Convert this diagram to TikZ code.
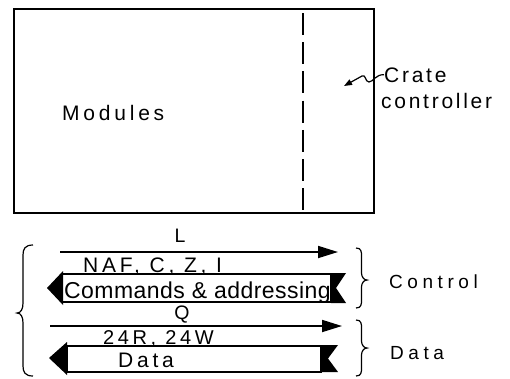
\documentclass[tikz,border=0pt]{standalone}
\usepackage{fontspec}
\setmainfont{Liberation Sans}
\newfontfamily\lsA[LetterSpace=18]{Liberation Sans}
\newfontfamily\lsB[LetterSpace=13]{Liberation Sans}
\newfontfamily\lsC[LetterSpace=24]{Liberation Sans}
\newfontfamily\lsD[LetterSpace=2]{Liberation Sans}
\usetikzlibrary{arrows.meta}
\begin{document}
\begin{tikzpicture}[x=1pt,y=-1pt,
  frame/.style={line width=1.4pt},
  divider/.style={line width=1.5pt, dash pattern=on 22pt off 7.2pt},
  bus/.style={line width=1.8pt, -{Triangle[length=20pt,width=12pt]}},
  band/.style={line width=1.7pt},
  blk/.style={fill=black},
  brc/.style={line width=1.2pt},
  lbl/.style={inner sep=0pt, anchor=base west},
  clbl/.style={inner sep=0pt, anchor=base}]
\useasboundingbox (0,0) rectangle (510,378);
% crate
\draw[frame] (14,9) rectangle (374,213);
\coordinate (dt) at (303,13);
\coordinate (db) at (303,210);
\draw[divider] (dt) -- (db);
\node[lbl,font=\lsA\fontsize{21}{21}\selectfont] (mod) at (62,120) {Modules};
\node[lbl,font=\lsB\fontsize{21}{21}\selectfont] (crate) at (384,82) {Crate};
\node[lbl,font=\lsB\fontsize{21}{21}\selectfont] (ctrl) at (381,108) {controller};
\coordinate (sq) at (344,86);
\draw[line width=1.2pt,-{Triangle[length=8pt,width=6pt]}] (crate.west) .. controls (376,74) and (373,82) .. (369,82) .. controls (365,82) and (366,74) .. (362,76) -- (sq);
% L line
\coordinate (Ls) at (60,252);
\coordinate (Le) at (338,252);
\draw[bus] (Ls) -- (Le);
\node[clbl,font=\fontsize{19.5}{19.5}\selectfont] (L) at (180,242) {L};
\node[lbl,font=\lsA\fontsize{21}{21}\selectfont] (naf) at (83,272) {NAF, C, Z, I};
% Commands band
\draw[band] (62,274) rectangle (331,302);
\fill[blk] (47,288) -- (63,271) -- (63,305) -- cycle;
\fill[blk] (331,273) -- (346,273) -- (336,288) -- (346,303) -- (331,303) -- cycle;
\node[lbl,font=\lsD\fontsize{23}{23}\selectfont] (cmd) at (64,298) {Commands \& addressing};
% Q line
\coordinate (Qs) at (50,326);
\coordinate (Qe) at (342,326);
\draw[bus] (Qs) -- (Qe);
\node[clbl,font=\fontsize{19.5}{19.5}\selectfont] (Q) at (182,319) {Q};
\node[lbl,font=\lsA\fontsize{20}{20}\selectfont] (rw) at (103,344) {24R, 24W};
% Data band
\draw[band] (67,346) rectangle (321,372);
\fill[blk] (49,358) -- (67,342) -- (67,375) -- cycle;
\fill[blk] (321,345) -- (338,345) -- (328,358.5) -- (338,372) -- (321,372) -- cycle;
\node[lbl,font=\lsA\fontsize{21}{21}\selectfont] (dat) at (118,367) {Data};
% braces
\draw[brc] (356,248) .. controls (361.5,248) and (361.5,252) .. (361.5,256) -- (361.5,273) .. controls (361.5,277) and (364,280) .. (367,280) .. controls (364,280) and (361.5,283) .. (361.5,287) -- (361.5,300) .. controls (361.5,304) and (361.5,308) .. (356,308);
\draw[brc] (356,320) .. controls (361.5,320) and (361.5,324) .. (361.5,328) -- (361.5,341) .. controls (361.5,345) and (364,348) .. (367,348) .. controls (364,348) and (361.5,351) .. (361.5,355) -- (361.5,368) .. controls (361.5,372) and (361.5,376) .. (356,376);
\draw[brc] (33,245) .. controls (25,245) and (23,249) .. (23,255) -- (23,303) .. controls (23,309) and (21,313) .. (17,313) .. controls (21,313) and (23,317) .. (23,323) -- (23,366) .. controls (23,372) and (25,376) .. (33,376);
\node[lbl,font=\lsC\fontsize{19}{19}\selectfont] (con) at (389,288) {Control};
\node[lbl,font=\lsC\fontsize{19}{19}\selectfont] (dlab) at (390,359) {Data};
\end{tikzpicture}
\end{document}
